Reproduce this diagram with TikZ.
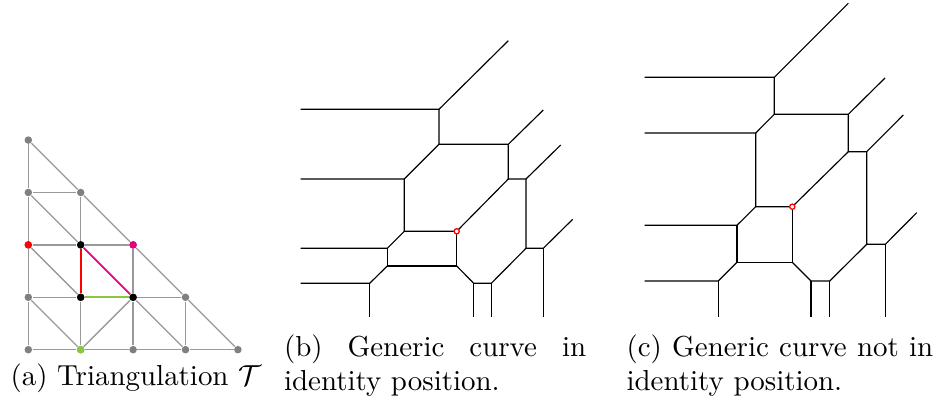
\documentclass[tikz,border=0pt]{standalone}
\usepackage{amsmath,amssymb}
\usepackage{tikz}
\usepackage{xcolor}

\definecolor{trired}{RGB}{255,0,0}
\definecolor{trimagenta}{RGB}{232,0,128}
\definecolor{trigreen}{RGB}{140,198,63}

\begin{document}
\begin{tikzpicture}[
    x=0.3456pt, y=-0.3456pt,
    vertex/.style={
        circle, fill=gray, inner sep=0pt, minimum size=2.6pt
    },
    edge/.style={gray!80, line width=0.45pt},
    curve/.style={black, line width=0.4pt},
    marked/.style={
        circle, draw=red, fill=white, line width=0.45pt,
        inner sep=0pt, minimum size=1.8pt
    },
    caption/.style={
        font=\fontsize{10pt}{11.6pt}\selectfont, inner sep=0pt
    }
]
\useasboundingbox (0,0) rectangle (934,405);

% (a) triangulation
\begin{scope}[shift={(28.3,349.7)}, x=18.11pt, y=18.11pt]
\foreach \p/\q in {0/0,1/0,2/0,3/0,4/0,0/1,1/1,2/1,3/1,0/2,1/2,2/2,0/3,1/3,0/4}
    \node[vertex] (v\p\q) at (\p,\q) {};
% grid edges
\draw[edge] (v00) -- (v10) -- (v20) -- (v30) -- (v40);
\draw[edge] (v01) -- (v11);
\draw[edge] (v21) -- (v31);
\draw[edge] (v02) -- (v12) -- (v22);
\draw[edge] (v03) -- (v13);
\draw[edge] (v00) -- (v01) -- (v02) -- (v03) -- (v04);
\draw[edge] (v10) -- (v11);
\draw[edge] (v12) -- (v13);
\draw[edge] (v20) -- (v21) -- (v22);
\draw[edge] (v30) -- (v31);
% diagonals
\draw[edge] (v04) -- (v13) -- (v22) -- (v31) -- (v40);
\draw[edge] (v03) -- (v12);
\draw[edge] (v02) -- (v11);
\draw[edge] (v01) -- (v10);
\draw[edge] (v21) -- (v30);
\draw[edge] (v10) -- (v21);
% marked triangle
\draw[trired, line width=0.6pt] (v11) -- (v12);
\draw[trimagenta, line width=0.6pt] (v12) -- (v21);
\draw[trigreen, line width=0.6pt] (v11) -- (v21);
\node[vertex, fill=trired] at (v02) {};
\node[vertex, fill=trimagenta] at (v22) {};
\node[vertex, fill=trigreen] at (v10) {};
\node[vertex, fill=black] at (v12) {};
\node[vertex, fill=black] at (v11) {};
\node[vertex, fill=black] at (v21) {};
\end{scope}

% (b) curve in identity position
\coordinate (bA) at (439,109.3);   \coordinate (bAw) at (300.7,109.3);
\coordinate (bAn) at (508.3,40.7); \coordinate (bB) at (439,144.3);
\coordinate (bC) at (508.3,144.3); \coordinate (bCn) at (543.3,110);
\coordinate (bD) at (508.3,179);   \coordinate (bE) at (404.3,179);
\coordinate (bEw) at (300.7,179);  \coordinate (bF) at (526,179);
\coordinate (bFn) at (560.7,145);  \coordinate (bG) at (526,248.3);
\coordinate (bR) at (456.7,231.3); \coordinate (bH) at (404.3,231.3);
\coordinate (bI) at (456.7,266);   \coordinate (bJ) at (387.3,248.3);
\coordinate (bJw) at (300.7,248.3);\coordinate (bK) at (387.3,266);
\coordinate (bL) at (369.7,283.3); \coordinate (bLw) at (300.7,283.3);
\coordinate (bLs) at (369.7,317.3);\coordinate (bM) at (473.7,283.3);
\coordinate (bN) at (491.3,283.3); \coordinate (bMs) at (473.7,317.3);
\coordinate (bNs) at (491.3,317.3);\coordinate (bO) at (543.3,248.3);
\coordinate (bOn) at (572.7,219.3);\coordinate (bOs) at (543.3,317.3);

% (c) curve not in identity position
\coordinate (cA) at (774.3,77.3);  \coordinate (cAw) at (644.7,77.3);
\coordinate (cAn) at (848.3,3.3);  \coordinate (cB) at (774.3,114.3);
\coordinate (cC) at (848.3,114.3); \coordinate (cCn) at (885,78);
\coordinate (cD) at (848.3,151.7); \coordinate (cE) at (755.7,133);
\coordinate (cEw) at (644.7,133);  \coordinate (cF) at (866.7,151.7);
\coordinate (cFn) at (903.3,115);  \coordinate (cG) at (866.7,244.3);
\coordinate (cR) at (792.3,206.7); \coordinate (cH) at (755.7,206.7);
\coordinate (cI) at (792.3,262.3); \coordinate (cJ) at (737,225.3);
\coordinate (cJw) at (644.7,225.3);\coordinate (cK) at (737,262.3);
\coordinate (cL) at (718.3,281);   \coordinate (cLw) at (644.7,281);
\coordinate (cLs) at (718.3,316.7);\coordinate (cM) at (811,281);
\coordinate (cN) at (829.7,281);   \coordinate (cMs) at (811,316.7);
\coordinate (cNs) at (829.7,316.7);\coordinate (cO) at (885.3,244.3);
\coordinate (cOn) at (916.7,212.7);\coordinate (cOs) at (885.3,316.7);

% both curves share the same combinatorics
\foreach \s in {b,c} {
    \draw[curve] (\s Aw) -- (\s A) -- (\s An);
    \draw[curve] (\s A) -- (\s B) -- (\s C) -- (\s Cn);
    \draw[curve] (\s C) -- (\s D) -- (\s F) -- (\s Fn);
    \draw[curve] (\s B) -- (\s E) -- (\s Ew);
    \draw[curve] (\s E) -- (\s H) -- (\s R) -- (\s D);
    \draw[curve] (\s F) -- (\s G) -- (\s O) -- (\s On);
    \draw[curve] (\s O) -- (\s Os);
    \draw[curve] (\s H) -- (\s J) -- (\s Jw);
    \draw[curve] (\s J) -- (\s K) -- (\s I) -- (\s R);
    \draw[curve] (\s K) -- (\s L) -- (\s Lw);
    \draw[curve] (\s L) -- (\s Ls);
    \draw[curve] (\s I) -- (\s M) -- (\s N) -- (\s G);
    \draw[curve] (\s M) -- (\s Ms);
    \draw[curve] (\s N) -- (\s Ns);
    \node[marked] (\s mark) at (\s R) {};
}

% captions
\node[caption, anchor=base west] (capa) at (10,386)
    {(a) Triangulation $\mathcal{T}$};
\node[caption, anchor=base west, text width=104.4pt, align=justify] (capb)
    at (283.5,356.5) {(b) Generic curve in identity position.};
\node[caption, anchor=base west, text width=106pt, align=justify] (capc)
    at (626,356.5) {(c) Generic curve not in identity position.};
\end{tikzpicture}
\end{document}
